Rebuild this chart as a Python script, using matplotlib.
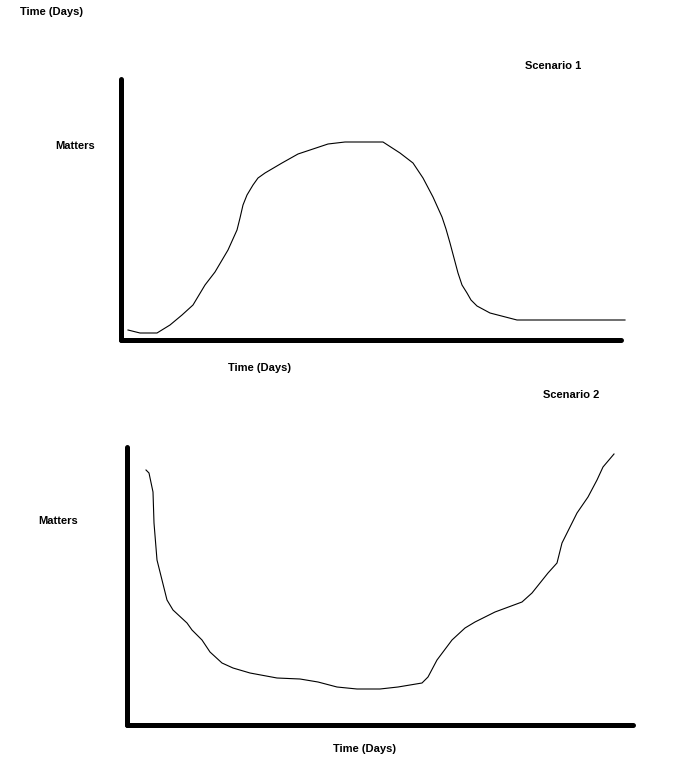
#%%
import matplotlib
matplotlib.use("Agg")
import matplotlib.pyplot as plt

## VARIABEL CONST

FIG_W : int = 698
FIG_H : int = 768
DPI : int = 100
AXIS_WIDTH : float = 3.6
CURVE_WIDTH : float = 0.8
FONT = ["Liberation Sans Narrow", "Liberation Sans", "DejaVu Sans"]
FONT_SIZE : float = 8

## Scenario 1 : rise, plateau, drop
S1_TIME = [7, 19, 36, 49, 61, 72, 84, 94, 107, 116, 119, 122, 126, 132, 137, 144, 161,
           177, 207, 224, 262, 279, 292, 302, 312, 321, 325, 329, 333, 337, 341, 346,
           350, 356, 369, 396, 504]
S1_MATTERS = [10, 7, 7, 15, 25, 35, 55, 68, 90, 110, 122, 135, 145, 155, 162, 167, 177,
              186, 196, 198, 198, 187, 177, 162, 143, 123, 111, 97, 82, 67, 55, 47,
              40, 34, 27, 20, 20]

## Scenario 2 : drop, trough, rise
S2_TIME = [19, 22, 26, 27, 30, 35, 40, 46, 60, 65, 75, 83, 95, 106, 123, 150, 173,
           191, 210, 230, 253, 271, 295, 301, 310, 325, 338, 348, 368, 395, 405,
           421, 430, 435, 443, 450, 461, 470, 476, 487]
S2_MATTERS = [255, 252, 233, 202, 165, 145, 125, 115, 102, 95, 85, 73, 62, 57, 52,
              47, 46, 43, 38, 36, 36, 38, 42, 48, 65, 85, 97, 103, 113, 123, 132,
              152, 162, 182, 198, 212, 228, 245, 258, 271]

TITLES = ["Scenario 1", "Scenario 2"]
X_LABEL = "Time (Days)"
Y_LABEL = "Matters"


def px_rect(left, top, right, bottom):
	## pixel box -> figure fraction box
	return [left / FIG_W, 1 - bottom / FIG_H, (right - left) / FIG_W, (bottom - top) / FIG_H]


def px_text(fig, x, y, s):
	fig.text(x / FIG_W, 1 - y / FIG_H, s, ha="center", va="center",
	         fontsize=FONT_SIZE, fontweight="bold", family=FONT)


def sketch_axes(fig, rect, time, matters):
	ax = fig.add_axes(rect)
	ax.plot(time, matters, color="black", linewidth=CURVE_WIDTH, clip_on=False,
	        solid_joinstyle="round")
	ax.set_xlim(0, rect[2] * FIG_W)
	ax.set_ylim(0, rect[3] * FIG_H)
	for side in ["top", "right"]:
		ax.spines[side].set_visible(False)
	for side in ["left", "bottom"]:
		ax.spines[side].set_linewidth(AXIS_WIDTH)
		ax.spines[side].set_capstyle("round")
	ax.set_xticks([])
	ax.set_yticks([])
	ax.patch.set_alpha(0)
	return ax


#%%
if __name__ == "__main__":
	fig = plt.figure(figsize=(FIG_W / DPI, FIG_H / DPI), dpi=DPI)

	sketch_axes(fig, px_rect(121, 79, 621, 340), S1_TIME, S1_MATTERS)
	sketch_axes(fig, px_rect(127, 447, 633, 725), S2_TIME, S2_MATTERS)

	px_text(fig, 51, 12, X_LABEL)
	px_text(fig, 553, 66, TITLES[0])
	px_text(fig, 75, 146, Y_LABEL)
	px_text(fig, 260, 368, X_LABEL)
	px_text(fig, 571, 395, TITLES[1])
	px_text(fig, 58, 521, Y_LABEL)
	px_text(fig, 365, 749, X_LABEL)

	fig.savefig("out.png", dpi=DPI)
# %%
